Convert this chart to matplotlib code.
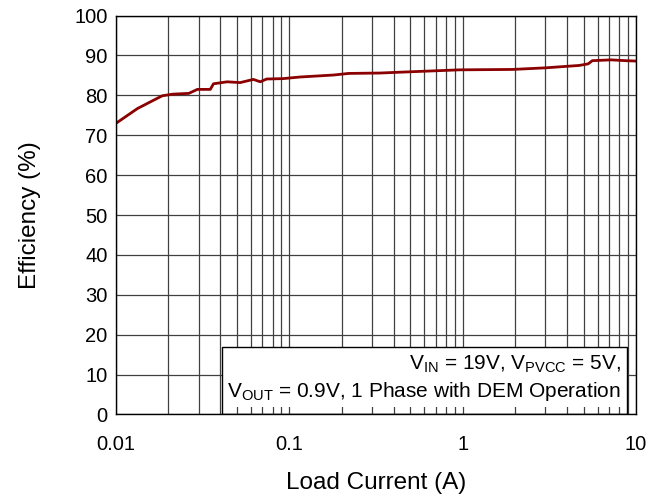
import matplotlib
matplotlib.use("Agg")
import matplotlib.pyplot as plt
from matplotlib.patches import Rectangle
from matplotlib.ticker import LogLocator, FixedLocator, NullFormatter

plt.rcParams["font.family"] = ["Liberation Sans", "DejaVu Sans"]

# load current (A) and efficiency (%)
load_a = [0.01, 0.0133, 0.0165, 0.0185, 0.0212, 0.0263, 0.0295, 0.035, 0.0365,
          0.0438, 0.052, 0.062, 0.068, 0.074, 0.092, 0.115, 0.18, 0.22,
          0.333, 0.43, 0.96, 1.94, 3.0, 4.7, 5.3, 5.6, 7.2, 8.7, 10.0]
eff_pct = [73.0, 76.7, 78.8, 79.9, 80.3, 80.5, 81.5, 81.5, 82.9,
           83.4, 83.2, 84.0, 83.4, 84.1, 84.2, 84.6, 85.1, 85.5,
           85.6, 85.8, 86.4, 86.5, 86.9, 87.5, 87.9, 88.7, 88.9, 88.7, 88.6]

x_ticks = [0.01, 0.1, 1, 10]
x_tick_labels = ["0.01", "0.1", "1", "10"]
y_ticks = list(range(0, 101, 10))

note = ("$\\mathregular{V_{IN}}$ = 19V, $\\mathregular{V_{PVCC}}$ = 5V,\n"
        "$\\mathregular{V_{OUT}}$ = 0.9V, 1 Phase with DEM Operation")

fig = plt.figure(figsize=(6.64, 4.98), dpi=100)
ax = fig.add_axes([0.1747, 0.1677, 0.7831, 0.801])

ax.set_xscale("log")
ax.set_xlim(0.01, 10)
ax.set_ylim(0, 100)

ax.xaxis.set_major_locator(FixedLocator(x_ticks))
ax.set_xticklabels(x_tick_labels)
ax.xaxis.set_minor_locator(LogLocator(base=10, subs=range(2, 10)))
ax.xaxis.set_minor_formatter(NullFormatter())
ax.set_yticks(y_ticks)

ax.grid(True, which="both", axis="x", color="#404040", lw=0.9)
ax.grid(True, which="major", axis="y", color="#404040", lw=0.9)
ax.tick_params(which="both", length=0, labelsize=14.5)
ax.tick_params(axis="x", pad=15)
ax.tick_params(axis="y", pad=6)

ax.plot(load_a, eff_pct, color="#8B0000", lw=2, zorder=3)

for sp in ax.spines.values():
    sp.set_color("black")
    sp.set_linewidth(1)
    sp.set_zorder(6)

ax.set_xlabel("Load Current (A)", fontsize=17.5, labelpad=13)
ax.set_ylabel("Efficiency (%)", fontsize=17.5, labelpad=24)

# annotation box: white fill stops short of the bottom so grid stubs show
ax.add_patch(Rectangle((0.204, 0.018), 0.779, 0.151, transform=ax.transAxes,
                       facecolor="white", edgecolor="none", zorder=4))
ax.add_patch(Rectangle((0.204, 0.0), 0.779, 0.169, transform=ax.transAxes,
                       facecolor="none", edgecolor="black", lw=1, zorder=5))
ax.text(0.971, 0.09, note, transform=ax.transAxes, ha="right", va="center",
        multialignment="right", fontsize=15, linespacing=1.3, zorder=5)

fig.savefig("out.png", dpi=100)
